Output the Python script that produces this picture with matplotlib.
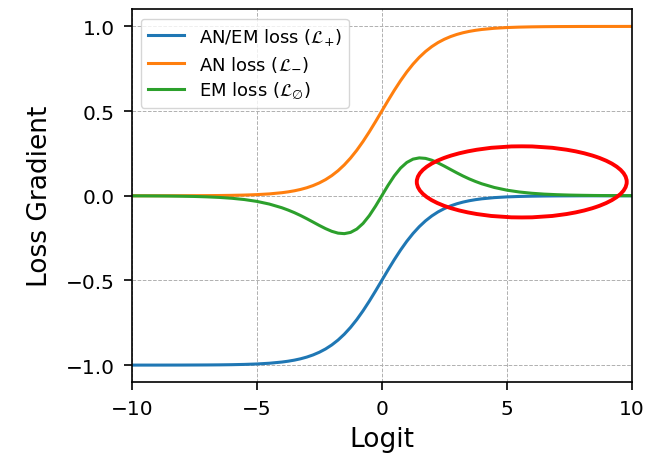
import matplotlib
matplotlib.use('Agg')
import matplotlib.pyplot as plt
from matplotlib.patches import Ellipse

# logit positions and the gradient read at each one (denser near the middle)
logit = [-10.0, -9.5, -9.0, -8.5, -8.0, -7.5, -7.0, -6.5, -6.0, -5.5, -5.0, -4.5, -4.0,
         -3.75, -3.5, -3.25, -3.0, -2.75, -2.5, -2.25, -2.0, -1.75, -1.5, -1.25, -1.0, -0.75, -0.5, -0.25, 0.0,
         0.25, 0.5, 0.75, 1.0, 1.25, 1.5, 1.75, 2.0, 2.25, 2.5, 2.75, 3.0, 3.25, 3.5, 3.75, 4.0,
         4.5, 5.0, 5.5, 6.0, 6.5, 7.0, 7.5, 8.0, 8.5, 9.0, 9.5, 10.0]

an_em_grad = [-1.000, -0.9999, -0.9999, -0.9998, -0.9997, -0.9994, -0.9991, -0.9985, -0.9975, -0.9959, -0.9933, -0.9890, -0.9820,
              -0.9770, -0.9707, -0.9627, -0.9526, -0.9399, -0.9241, -0.9047, -0.8808, -0.8520, -0.8176, -0.7773, -0.7311, -0.6792, -0.6225, -0.5622, -0.5000,
              -0.4378, -0.3775, -0.3208, -0.2689, -0.2227, -0.1824, -0.1480, -0.1192, -0.0953, -0.0759, -0.0601, -0.0474, -0.0373, -0.0293, -0.0230, -0.0180,
              -0.0110, -0.0067, -0.0041, -0.0025, -0.0015, -0.0009, -0.0006, -0.0003, -0.0002, -0.0001, -0.0001, 0.000]

an_grad = [0.000, 0.0001, 0.0001, 0.0002, 0.0003, 0.0006, 0.0009, 0.0015, 0.0025, 0.0041, 0.0067, 0.0110, 0.0180,
           0.0230, 0.0293, 0.0373, 0.0474, 0.0601, 0.0759, 0.0953, 0.1192, 0.1480, 0.1824, 0.2227, 0.2689, 0.3208, 0.3775, 0.4378, 0.5000,
           0.5622, 0.6225, 0.6792, 0.7311, 0.7773, 0.8176, 0.8520, 0.8808, 0.9047, 0.9241, 0.9399, 0.9526, 0.9627, 0.9707, 0.9770, 0.9820,
           0.9890, 0.9933, 0.9959, 0.9975, 0.9985, 0.9991, 0.9994, 0.9997, 0.9998, 0.9999, 0.9999, 1.000]

em_grad = [-0.0005, -0.0007, -0.0011, -0.0017, -0.0027, -0.0041, -0.0064, -0.0097, -0.0148, -0.0223, -0.0332, -0.0490, -0.0707,
           -0.0843, -0.0995, -0.1167, -0.1355, -0.1553, -0.1753, -0.1940, -0.2100, -0.2207, -0.2237, -0.2164, -0.1966, -0.1634, -0.1175, -0.0615, 0.000,
           0.0615, 0.1175, 0.1634, 0.1966, 0.2164, 0.2237, 0.2207, 0.2100, 0.1940, 0.1753, 0.1553, 0.1355, 0.1167, 0.0995, 0.0843, 0.0707,
           0.0490, 0.0332, 0.0223, 0.0148, 0.0097, 0.0064, 0.0041, 0.0027, 0.0017, 0.0011, 0.0007, 0.0005]

fig = plt.figure(figsize=(6.56, 4.56), dpi=100)
ax = fig.add_axes([0.201, 0.16, 0.762, 0.817])

ax.plot(logit, an_em_grad, color='#1f77b4', lw=2.2, label=r'AN/EM loss ($\mathcal{L}_{+}$)')
ax.plot(logit, an_grad, color='#ff7f0e', lw=2.2, label=r'AN loss ($\mathcal{L}_{-}$)')
ax.plot(logit, em_grad, color='#2ca02c', lw=2.2, label=r'EM loss ($\mathcal{L}_{\varnothing}$)')

# highlight of the tail region
ax.add_patch(Ellipse((5.6, 0.082), 8.4, 0.42, fill=False, edgecolor='red', lw=2.8, zorder=5))

ax.set_xlim(-10, 10)
ax.set_ylim(-1.1, 1.1)
ax.set_xticks([-10, -5, 0, 5, 10])
ax.set_yticks([-1.0, -0.5, 0.0, 0.5, 1.0])
ax.tick_params(labelsize=14.5, length=5.8, width=1.2, pad=6.5)
for s in ax.spines.values():
    s.set_linewidth(1.2)
ax.grid(True, linestyle='--', color='#b0b0b0', lw=0.7)
ax.set_xlabel('Logit', fontsize=19, labelpad=6)
ax.set_ylabel('Loss Gradient', fontsize=19, labelpad=9)
ax.legend(loc='upper left', fontsize=13, handlelength=2.0, borderpad=0.4, labelspacing=0.4)

fig.savefig('out.png', dpi=100)
